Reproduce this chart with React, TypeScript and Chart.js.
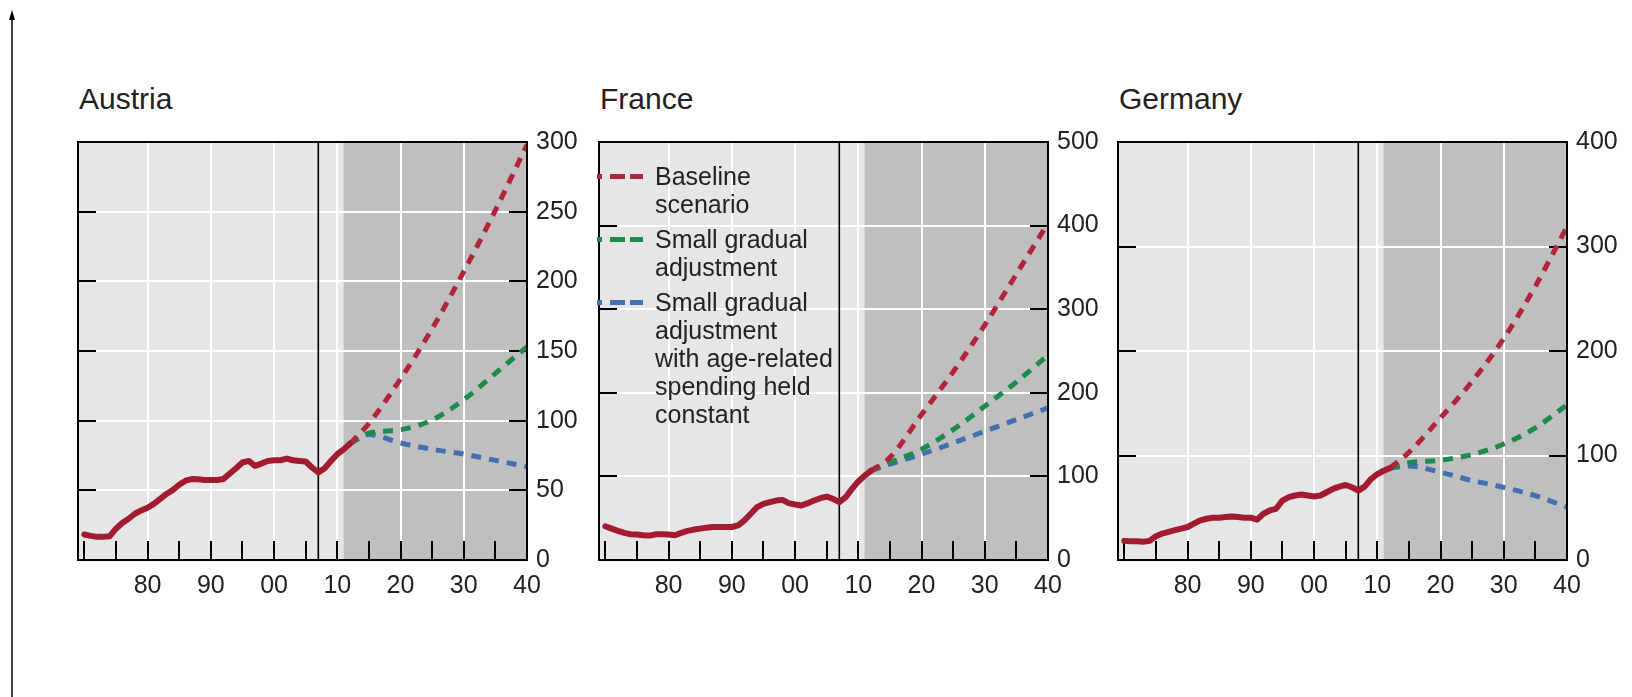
import React, { useEffect, useRef } from "react";
import { Chart, registerables } from "chart.js";

Chart.register(...registerables);

// ---------- data ----------
const HIST_YEARS = [
  1970, 1971, 1972, 1973, 1974, 1975, 1976, 1977, 1978, 1979,
  1980, 1981, 1982, 1983, 1984, 1985, 1986, 1987, 1988, 1989,
  1990, 1991, 1992, 1993, 1994, 1995, 1996, 1997, 1998, 1999,
  2000, 2001, 2002, 2003, 2004, 2005, 2006, 2007, 2008, 2009,
  2010, 2011, 2012,
];
const PROJ_YEARS = [2012, 2015, 2020, 2025, 2030, 2035, 2040];
const X_TICKS = [1970, 1975, 1980, 1985, 1990, 1995, 2000, 2005, 2010, 2015, 2020, 2025, 2030, 2035, 2040];

const AUSTRIA_HIST = [
  18.3, 17.3, 16.6, 16.6, 17, 22.5, 26.6, 29.6, 33.2, 35.6,
  37.5, 40.3, 43.9, 47.4, 50.3, 54, 56.9, 58.1, 57.9, 57.4,
  57.4, 57.4, 58.1, 62.1, 65.9, 70, 71.1, 67.6, 69.2, 71.1,
  71.6, 71.6, 72.8, 71.6, 71.1, 70.7, 66.4, 62.8, 65.9, 71.1,
  75.9, 79.4, 83.5,
];
const AUSTRIA_BASELINE = [83.5, 98, 130, 166, 207, 251, 298];
const AUSTRIA_GRADUAL = [83.5, 91, 93.5, 100.5, 115, 134, 153];
const AUSTRIA_CONSTANT = [83.5, 90, 84, 79.5, 76, 71.5, 67];

const FRANCE_HIST = [
  40.3, 37.5, 34.8, 32.4, 30.8, 30.4, 29.6, 29.2, 30.8, 30.8,
  30.4, 29.6, 32.4, 34.8, 36.4, 37.5, 38.7, 39.5, 39.5, 39.5,
  39.5, 41.5, 47.4, 55.3, 63.2, 67.2, 69.2, 71.1, 71.9, 68,
  66.4, 65.2, 68, 71.1, 73.9, 75.9, 73.1, 69.2, 75.1, 85,
  94, 100.8, 106.7,
];
const FRANCE_BASELINE = [106.7, 122.5, 174, 225, 281, 342, 403];
const FRANCE_GRADUAL = [106.7, 116.6, 132.4, 156, 184, 213, 245];
const FRANCE_CONSTANT = [106.7, 114.6, 126.5, 140, 154, 168, 182];

const GERMANY_HIST = [
  18.3, 18, 18, 17.4, 18.3, 22.8, 25.3, 26.9, 28.5, 30,
  31.6, 34.8, 38, 39.5, 40.5, 40.5, 41.1, 41.7, 41.1, 40.5,
  40.5, 38.6, 44.3, 47.4, 49, 56.9, 60.1, 61.7, 62.6, 61.7,
  60.7, 61.7, 64.8, 68, 70.2, 71.8, 69.6, 66.4, 70.2, 77.5,
  82.2, 85.4, 87.9,
];
const GERMANY_BASELINE = [88, 103, 136, 171, 212, 262, 319];
const GERMANY_GRADUAL = [88, 93, 95.5, 101, 111, 126.5, 148.5];
const GERMANY_CONSTANT = [88, 90, 84, 76, 69.5, 61.5, 50.5];

const COUNTRIES = ["Austria", "France", "Germany"];
const Y_MAX = [300, 500, 400];
const Y_STEP = [50, 100, 100];

const LEGEND_LABELS = [
  ["Baseline", "scenario"],
  ["Small gradual", "adjustment"],
  ["Small gradual", "adjustment", "with age-related", "spending held", "constant"],
];

const X_MIN = 1969;
const X_MAX = 2040;
const CRISIS_YEAR = 2007;
const PROJECTION_SHADE_START = 2011;

// ---------- styles ----------
const FONT = '"Liberation Sans", Arial, Helvetica, sans-serif';
const TEXT = "#222222";
const RED_SOLID = "#a31b31";
const RED_DASH = "#b2243c";
const GREEN = "#1f8a4e";
const BLUE = "#4470b2";
const LIGHT_BG = "#e6e6e6";
const DARK_BG = "#bfbfbf";

const PLOT_LEFTS = [78, 599, 1118];
const PLOT_TOP = 138;
const PLOT_W = 449;
const PLOT_H = 422;
const PAD_L = 10;
const PAD_T = 20;
const AXIS_W = 75;
const AXIS_H = 50;

const decoPlugin = {
  id: "panelDeco",
  beforeDraw(chart: any) {
    const { ctx, chartArea: a, scales } = chart;
    const x = scales.x;
    ctx.save();
    ctx.fillStyle = LIGHT_BG;
    ctx.fillRect(a.left, a.top, a.right - a.left, a.bottom - a.top);
    const xs = x.getPixelForValue(PROJECTION_SHADE_START);
    ctx.fillStyle = DARK_BG;
    ctx.fillRect(xs, a.top, a.right - xs, a.bottom - a.top);
    ctx.restore();
  },
  beforeDatasetsDraw(chart: any) {
    const { ctx, chartArea: a, scales } = chart;
    const x = scales.x;
    const y = scales.y;
    ctx.save();
    ctx.strokeStyle = "#000";
    ctx.lineWidth = 2;
    ctx.beginPath();
    for (const t of x.ticks) {
      if (t.value <= X_MIN || t.value >= X_MAX) continue;
      const px = Math.round(x.getPixelForValue(t.value));
      ctx.moveTo(px, a.bottom);
      ctx.lineTo(px, a.bottom - 19);
    }
    for (const t of y.ticks) {
      if (t.value <= y.min || t.value >= y.max) continue;
      const py = Math.round(y.getPixelForValue(t.value));
      ctx.moveTo(a.left, py);
      ctx.lineTo(a.left + 18, py);
      ctx.moveTo(a.right - 18, py);
      ctx.lineTo(a.right, py);
    }
    ctx.stroke();
    const cx = x.getPixelForValue(CRISIS_YEAR);
    ctx.lineWidth = 1.6;
    ctx.beginPath();
    ctx.moveTo(cx, a.top);
    ctx.lineTo(cx, a.bottom);
    ctx.stroke();
    ctx.restore();
  },
  afterDraw(chart: any) {
    const { ctx, chartArea: a } = chart;
    ctx.save();
    ctx.strokeStyle = "#000";
    ctx.lineWidth = 2;
    ctx.strokeRect(a.left, a.top, a.right - a.left, a.bottom - a.top);
    ctx.restore();
  },
};

function pts(xs: number[], ys: number[]) {
  return xs.map((v, i) => ({ x: v, y: ys[i] }));
}

function Panel({ idx, hist, base, grad, cons }: any) {
  const ref = useRef<HTMLCanvasElement | null>(null);
  const width = PAD_L + PLOT_W + AXIS_W;
  const height = PAD_T + PLOT_H + AXIS_H;
  useEffect(() => {
    if (!ref.current) return;
    const dashed = (data: any, color: string) => ({
      data,
      borderColor: color,
      borderWidth: 5,
      borderDash: [10, 8],
      borderCapStyle: "butt",
      pointRadius: 0,
      cubicInterpolationMode: "monotone",
      fill: false,
    });
    const chart = new Chart(ref.current, {
      type: "line",
      data: {
        datasets: [
          {
            data: pts(HIST_YEARS, hist),
            borderColor: RED_SOLID,
            borderWidth: 6,
            borderJoinStyle: "round",
            borderCapStyle: "round",
            pointRadius: 0,
            fill: false,
          },
          dashed(pts(PROJ_YEARS, base), RED_DASH),
          dashed(pts(PROJ_YEARS, grad), GREEN),
          dashed(pts(PROJ_YEARS, cons), BLUE),
        ] as any,
      },
      options: {
        responsive: false,
        animation: false,
        devicePixelRatio: 1,
        layout: { padding: { left: PAD_L, top: PAD_T, right: 0, bottom: 0 } },
        plugins: { legend: { display: false }, tooltip: { enabled: false }, title: { display: false } },
        scales: {
          x: {
            type: "linear",
            min: X_MIN,
            max: X_MAX,
            afterBuildTicks: (s: any) => {
              s.ticks = X_TICKS.map((v) => ({ value: v }));
            },
            afterFit: (s: any) => {
              s.height = AXIS_H;
            },
            ticks: {
              autoSkip: false,
              maxRotation: 0,
              minRotation: 0,
              padding: 11,
              color: TEXT,
              font: { family: FONT, size: 25 },
              callback: (v: any) => {
                const n = Number(v);
                return n % 10 === 0 && n >= 1980 ? String(n % 100).padStart(2, "0") : "";
              },
            },
            grid: {
              drawTicks: false,
              lineWidth: 2,
              color: (c: any) => {
                const v = c.tick ? c.tick.value : 0;
                return v % 10 === 0 && v >= 1980 && v <= 2030 ? "#ffffff" : "rgba(0,0,0,0)";
              },
            },
            border: { display: false },
          },
          y: {
            position: "right",
            min: 0,
            max: Y_MAX[idx],
            afterFit: (s: any) => {
              s.width = AXIS_W;
            },
            ticks: {
              stepSize: Y_STEP[idx],
              padding: 9,
              color: TEXT,
              font: { family: FONT, size: 25 },
            },
            grid: {
              drawTicks: false,
              lineWidth: 2,
              color: (c: any) => {
                const v = c.tick ? c.tick.value : 0;
                return v > 0 && v < Y_MAX[idx] ? "#ffffff" : "rgba(0,0,0,0)";
              },
            },
            border: { display: false },
          },
        },
      } as any,
      plugins: [decoPlugin],
    });
    return () => chart.destroy();
  }, []);
  const left = PLOT_LEFTS[idx];
  return (
    <>
      <div
        style={{
          position: "absolute",
          left: left + 1,
          top: 84,
          fontFamily: FONT,
          fontSize: 30,
          lineHeight: "30px",
          color: TEXT,
          whiteSpace: "nowrap",
        }}
      >
        {COUNTRIES[idx]}
      </div>
      <canvas
        ref={ref}
        width={width}
        height={height}
        style={{ position: "absolute", left: left - PAD_L, top: PLOT_TOP - PAD_T, width, height }}
      />
    </>
  );
}

function LegendMarker({ color }: { color: string }) {
  return (
    <svg width={50} height={28} style={{ position: "absolute", left: 0, top: 0 }}>
      <line x1={0} y1={14.5} x2={5} y2={14.5} stroke={color} strokeWidth={5} />
      <line x1={13} y1={14.5} x2={28} y2={14.5} stroke={color} strokeWidth={5} />
      <line x1={33} y1={14.5} x2={46} y2={14.5} stroke={color} strokeWidth={5} />
    </svg>
  );
}

function Legend() {
  const colors = [RED_DASH, GREEN, BLUE];
  return (
    <div style={{ position: "absolute", left: 597, top: 162 }}>
      {LEGEND_LABELS.map((lines, i) => (
        <div key={i} style={{ position: "relative", marginBottom: 7, paddingLeft: 58 }}>
          <LegendMarker color={colors[i]} />
          {lines.map((t, j) => (
            <div
              key={j}
              style={{ fontFamily: FONT, fontSize: 25, lineHeight: "28px", color: TEXT, whiteSpace: "nowrap" }}
            >
              {t}
            </div>
          ))}
        </div>
      ))}
    </div>
  );
}

export default function App() {
  return (
    <div
      style={{
        position: "absolute",
        left: 0,
        top: 0,
        width: 1632,
        height: 697,
        background: "#ffffff",
        overflow: "hidden",
      }}
    >
      <svg width={30} height={697} style={{ position: "absolute", left: 0, top: 0 }}>
        <line x1={12} y1={17} x2={12} y2={697} stroke="#000" strokeWidth={1.5} />
        <polygon points="12,10 9,20 15,20" fill="#000" />
      </svg>
      <Panel idx={0} hist={AUSTRIA_HIST} base={AUSTRIA_BASELINE} grad={AUSTRIA_GRADUAL} cons={AUSTRIA_CONSTANT} />
      <Panel idx={1} hist={FRANCE_HIST} base={FRANCE_BASELINE} grad={FRANCE_GRADUAL} cons={FRANCE_CONSTANT} />
      <Panel idx={2} hist={GERMANY_HIST} base={GERMANY_BASELINE} grad={GERMANY_GRADUAL} cons={GERMANY_CONSTANT} />
      <Legend />
    </div>
  );
}
